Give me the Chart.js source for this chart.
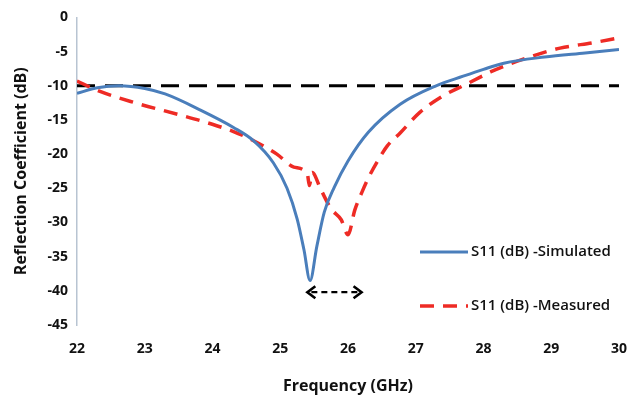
<!DOCTYPE html>
<html>
<head>
<meta charset="utf-8">
<script src="https://cdn.jsdelivr.net/npm/chart.js@4"></script>
<style>
  html, body { margin: 0; padding: 0; background: #fff; }
  #wrap { width: 643px; height: 400px; position: relative; }
</style>
</head>
<body>
<div id="wrap"><canvas id="chart"></canvas></div>
<script>
// S11 simulated (GHz, dB)
const simFreq = [22.0, 22.3, 22.62, 23.0, 23.3, 23.83, 24.31, 24.6, 24.9, 25.1, 25.25, 25.35, 25.44,
    25.54, 25.65, 25.8, 26.0, 26.3, 26.77, 27.3, 27.7, 28.0, 28.3, 28.9, 29.5, 30.0];
const simS11 = [-11.1, -10.3, -10.0, -10.4, -11.2, -13.6, -16.1, -18.0, -21.3, -25.0, -29.5, -34.0, -38.5,
    -33.5, -28.5, -24.8, -21.0, -16.8, -12.7, -10.0, -8.6, -7.6, -6.7, -5.8, -5.2, -4.7];

// S11 measured (GHz, dB)
const measFreq = [22.0, 22.33, 22.86, 23.49, 23.92, 24.31, 24.6, 24.95, 25.2, 25.4, 25.43, 25.47, 25.6,
    25.75, 25.9, 26.0, 26.1, 26.2, 26.3, 26.45, 26.58, 26.77, 27.06, 27.4, 27.74, 28.0, 28.12, 28.65,
    29.13, 29.62, 30.0];
const measS11 = [-9.3, -10.8, -12.5, -14.2, -15.4, -16.7, -18.0, -20.0, -21.9, -22.9, -24.6, -22.7, -25.2,
    -28.0, -29.6, -31.8, -28.2, -25.7, -23.5, -20.8, -18.8, -16.9, -13.9, -11.5, -9.8, -8.5, -7.9, -5.9,
    -4.5, -3.7, -3.0];

// -10 dB reference level
const refFreq = [22, 30];
const refLevel = [-10, -10];

// bandwidth arrow
const arrowFrom = 25.4;
const arrowTo = 26.2;
const arrowLevel = -40.2;

const xTicks = [22, 23, 24, 25, 26, 27, 28, 29, 30];
const yTicks = [0, -5, -10, -15, -20, -25, -30, -35, -40, -45];

const toPoints = (xs, ys) => xs.map((x, i) => ({ x: x, y: ys[i] }));

const FONT = "'Open Sans', 'Noto Sans', sans-serif";

const arrowPlugin = {
    id: "arrow",
    afterDatasetsDraw(chart) {
        const ctx = chart.ctx;
        const xs = chart.scales.x, ys = chart.scales.y;
        const x1 = xs.getPixelForValue(arrowFrom);
        const x2 = xs.getPixelForValue(arrowTo);
        const y = ys.getPixelForValue(arrowLevel);
        ctx.save();
        ctx.strokeStyle = "#000";
        ctx.lineWidth = 2.2;
        ctx.setLineDash([6, 4]);
        ctx.beginPath();
        ctx.moveTo(x1 + 4, y);
        ctx.lineTo(x2 - 4, y);
        ctx.stroke();
        ctx.setLineDash([]);
        ctx.lineWidth = 2.6;
        ctx.beginPath();
        ctx.moveTo(x1 + 8, y - 6);
        ctx.lineTo(x1, y);
        ctx.lineTo(x1 + 8, y + 6);
        ctx.moveTo(x2 - 8, y - 6);
        ctx.lineTo(x2, y);
        ctx.lineTo(x2 - 8, y + 6);
        ctx.stroke();
        ctx.restore();
    },
};

// legend drawn inside the plot, lower right
const legendPlugin = {
    id: "sideLegend",
    afterDraw(chart) {
        const ctx = chart.ctx;
        const rows = [0, 1];
        ctx.save();
        ctx.font = "600 15px " + FONT;
        ctx.textBaseline = "middle";
        ctx.fillStyle = "#111";
        rows.forEach((i, k) => {
            const ds = chart.data.datasets[i];
            const y = 252 + k * 54;
            ctx.strokeStyle = ds.borderColor;
            ctx.lineWidth = ds.borderWidth;
            ctx.setLineDash(ds.borderDash || []);
            ctx.beginPath();
            ctx.moveTo(420, y);
            ctx.lineTo(468, y);
            ctx.stroke();
            ctx.setLineDash([]);
            ctx.fillText(ds.label, 471, y);
        });
        ctx.restore();
    },
};

new Chart(document.getElementById("chart"), {
    type: "line",
    data: {
        datasets: [
            {
                label: "S11 (dB) -Simulated",
                data: toPoints(simFreq, simS11),
                borderColor: "#4a7ebb",
                borderWidth: 3,
                pointRadius: 0,
                cubicInterpolationMode: "monotone",
            },
            {
                label: "S11 (dB) -Measured",
                data: toPoints(measFreq, measS11),
                borderColor: "#ee2b25",
                borderWidth: 3.5,
                borderDash: [14, 9],
                pointRadius: 0,
                cubicInterpolationMode: "monotone",
            },
            {
                label: "-10 dB",
                data: toPoints(refFreq, refLevel),
                borderColor: "#000",
                borderWidth: 3,
                borderDash: [18, 10],
                pointRadius: 0,
            },
        ],
    },
    options: {
        responsive: true,
        maintainAspectRatio: false,
        animation: false,
        layout: { padding: { left: 0, right: 13, top: 16, bottom: 0 } },
        scales: {
            x: {
                type: "linear",
                min: 22,
                max: 30,
                afterBuildTicks: (s) => { s.ticks = xTicks.map((v) => ({ value: v })); },
                afterFit: (s) => { s.height = 75; },
                grid: { display: false, drawTicks: false },
                border: { display: false },
                ticks: {
                    color: "#111",
                    padding: 16,
                    font: { family: FONT, size: 14, weight: "bold" },
                },
                title: {
                    display: true,
                    text: "Frequency (GHz)",
                    color: "#111",
                    padding: { top: 12 },
                    font: { family: FONT, size: 16, weight: "bold" },
                },
            },
            y: {
                min: -45,
                max: 0,
                afterBuildTicks: (s) => { s.ticks = yTicks.map((v) => ({ value: v })); },
                afterFit: (s) => { s.width = 77; },
                grid: { display: false, drawTicks: false },
                border: { display: true, color: "#b8c4d2", width: 1.5 },
                ticks: {
                    color: "#111",
                    padding: 9,
                    font: { family: FONT, size: 14, weight: "bold" },
                },
                title: {
                    display: true,
                    text: "Reflection Coefficient (dB)",
                    color: "#111",
                    padding: { top: 12, bottom: 0 },
                    font: { family: FONT, size: 16, weight: "bold" },
                },
            },
        },
        plugins: {
            legend: { display: false },
            tooltip: { enabled: false },
        },
    },
    plugins: [arrowPlugin, legendPlugin],
});
</script>
</body>
</html>
